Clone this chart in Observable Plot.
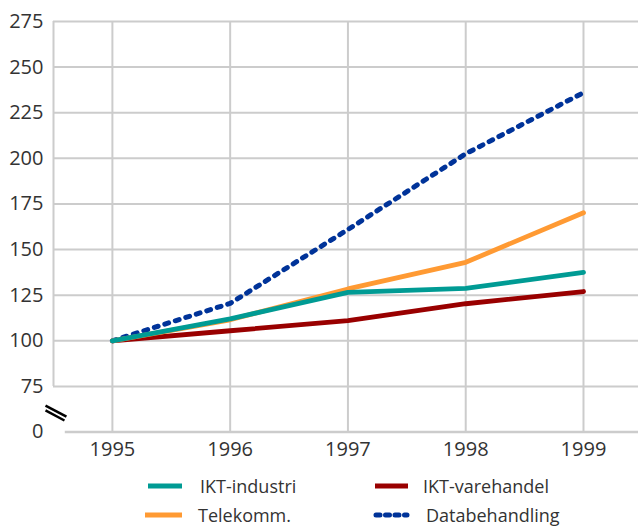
<!DOCTYPE html>
<html>
<head>
<meta charset="utf-8">
<script src="https://cdn.jsdelivr.net/npm/d3@7"></script>
<script src="https://cdn.jsdelivr.net/npm/@observablehq/plot@0.6"></script>
<style>
  html, body { margin: 0; padding: 0; background: #fff; }
  #wrap { width: 638px; height: 528px; position: relative; overflow: hidden; font-family: "Open Sans", sans-serif; color: #333; }
  #legend { position: absolute; left: 0; top: 470px; width: 638px; height: 58px; }
  .item { position: absolute; display: flex; align-items: center; font-size: 18px; white-space: nowrap; line-height: 1; height: 18px; }
  .item svg { display: block; margin-right: 16px; }
</style>
</head>
<body>
<div id="wrap"><div id="chart"></div><div id="legend"></div></div>
<script>
// ---- data ----
const years = [1995, 1996, 1997, 1998, 1999];
const seriesNames = ["IKT-industri", "Telekomm.", "IKT-varehandel", "Databehandling"];
const seriesColors = ["#009b94", "#ff9a33", "#990000", "#003399"];
const iktIndustri = [100, 112, 126.5, 128.7, 137.5];
const telekomm = [100, 111.5, 128.4, 143, 170.2];
const iktVarehandel = [100, 105.5, 111, 120.3, 127];
const databehandling = [100, 120.5, 161, 202.5, 236];
const yTicks = [50, 75, 100, 125, 150, 175, 200, 225, 250, 275];
const yTickLabels = ["0", "75", "100", "125", "150", "175", "200", "225", "250", "275"];

const valuesBySeries = [iktIndustri, telekomm, iktVarehandel, databehandling];
const tidy = seriesNames.map((name, i) => years.map((year, j) => ({series: name, year, value: valuesBySeries[i][j]})));
const colorOf = Object.fromEntries(seriesNames.map((n, i) => [n, seriesColors[i]]));

const xMin = 1994.5, xMax = 1999.467;
const grid = "#cccccc";
const breakMarks = [
  {x1: 1994.432, y1: 64.5, x2: 1994.61, y2: 58.4},
  {x1: 1994.432, y1: 61.8, x2: 1994.593, y2: 56.3}
];

const lineOf = (name, extra = {}) => Plot.line(tidy[seriesNames.indexOf(name)], {
  x: "year", y: "value", stroke: colorOf[name], strokeWidth: 4.8, strokeLinejoin: "round", ...extra
});

const chart = Plot.plot({
  width: 638,
  height: 470,
  marginLeft: 53,
  marginRight: 0,
  marginTop: 21,
  marginBottom: 38.5,
  x: {domain: [xMin, xMax]},
  y: {domain: [50, 275]},
  style: {fontFamily: "Open Sans, sans-serif", fontSize: "20px", color: "#333", background: "#fff"},
  marks: [
    Plot.ruleY(yTicks.filter(d => d >= 75), {x1: xMin, x2: xMax, stroke: grid, strokeWidth: 2}),
    Plot.ruleX(years, {y1: 50, y2: 275, stroke: grid, strokeWidth: 2}),
    Plot.ruleX([xMin], {y1: 75, y2: 275, stroke: grid, strokeWidth: 2}),
    Plot.ruleY([50], {x1: 1994.6, x2: xMax, stroke: grid, strokeWidth: 2.5}),
    Plot.link(breakMarks, {x1: "x1", y1: "y1", x2: "x2", y2: "y2", stroke: "#000", strokeWidth: 2.5}),
    lineOf("IKT-varehandel"),
    lineOf("Databehandling", {strokeDasharray: "4,7", strokeLinecap: "round", strokeWidth: 5}),
    lineOf("Telekomm."),
    lineOf("IKT-industri"),
    Plot.axisY({ticks: yTicks, tickFormat: d => yTickLabels[yTicks.indexOf(d)], tickSize: 0, tickPadding: 10, fill: "#333"}),
    Plot.axisX({ticks: years, tickFormat: d => String(d), tickSize: 0, tickPadding: 10, fill: "#333"})
  ]
});
document.getElementById("chart").appendChild(chart);

// ---- legend ----
const legendLayout = [
  {name: "IKT-industri", left: 148, top: 7, sw: 34, gap: 18},
  {name: "Telekomm.", left: 145, top: 36, sw: 37, gap: 16},
  {name: "IKT-varehandel", left: 375, top: 7, sw: 33, gap: 15},
  {name: "Databehandling", left: 373, top: 36, sw: 37, gap: 16}
];
const legend = document.getElementById("legend");
legendLayout.forEach(l => {
  const div = document.createElement("div");
  div.className = "item";
  div.style.left = l.left + "px";
  div.style.top = l.top + "px";
  const dashed = l.name === "Databehandling";
  const c = colorOf[l.name];
  div.innerHTML = `<svg width="${l.sw}" height="18"><line x1="${dashed ? 3 : 0}" x2="${l.sw - (dashed ? 3 : 0)}" y1="9" y2="9" stroke="${c}" stroke-width="5" ${dashed ? 'stroke-dasharray="4,5.5" stroke-linecap="round"' : 'stroke-linecap="' + (l.name === "Telekomm." ? "round" : "butt") + '"'}/></svg><span style="margin-left:${l.gap - 16}px">${l.name}</span>`;
  legend.appendChild(div);
});
</script>
</body>
</html>
